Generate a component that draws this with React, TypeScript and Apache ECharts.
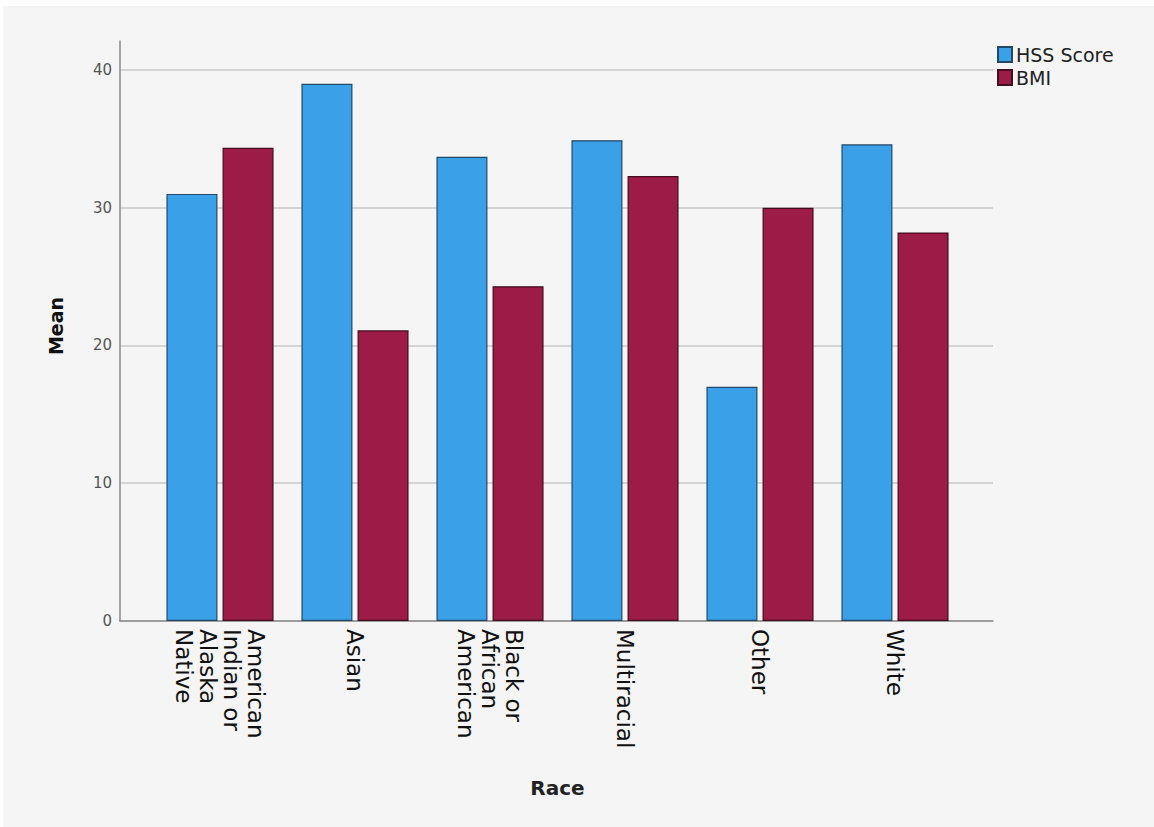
import React, { useEffect, useRef } from "react";
import * as echarts from "echarts";

const categories = [
  "American\nIndian or\nAlaska\nNative",
  "Asian",
  "Black or\nAfrican\nAmerican",
  "Multiracial",
  "Other",
  "White",
];
const hssScore = [31.0, 39.0, 33.7, 34.9, 17.0, 34.6];
const bmi = [34.35, 21.1, 24.3, 32.3, 30.0, 28.2];
const yTicks = [0, 10, 20, 30, 40];

const FONT = "'DejaVu Sans', sans-serif";

export default function App() {
  const ref = useRef<HTMLDivElement>(null);
  useEffect(() => {
    if (!ref.current) return;
    const chart = echarts.init(ref.current, null, { renderer: "svg" });
    const yMax = 42.1;
    chart.setOption({
      animation: false,
      backgroundColor: "#ffffff",
      graphic: [
        {
          type: "rect",
          z: -10,
          shape: { x: 3, y: 6, width: 1151, height: 821 },
          style: { fill: "#f5f5f5" },
          silent: true,
        },
      ],
      legend: {
        orient: "vertical",
        left: 997,
        top: 45,
        padding: 0,
        itemWidth: 14,
        itemHeight: 15,
        itemGap: 4,
        icon: "rect",
        textStyle: { fontFamily: FONT, fontSize: 19, color: "#222", padding: [0, 0, 0, -1] },
        data: ["HSS Score", "BMI"],
      },
      grid: [
        { left: 120, right: 161, top: 41, bottom: 206 },
        { left: 152.5, right: 191.5, top: 41, bottom: 206 },
      ],
      xAxis: [
        {
          gridIndex: 0,
          type: "value",
          min: 0,
          max: 1,
          axisLine: { show: true, lineStyle: { color: "#8a8a8a", width: 1.5 } },
          axisTick: { show: false },
          axisLabel: { show: false },
          splitLine: { show: false },
        },
        {
          gridIndex: 1,
          type: "category",
          data: categories,
          name: "Race",
          nameLocation: "middle",
          nameGap: 157,
          nameTextStyle: { fontFamily: FONT, fontSize: 20, fontWeight: "bold", color: "#222" },
          axisLine: { show: false },
          axisTick: { show: false },
          axisLabel: {
            rotate: -90,
            margin: 8,
            interval: 0,
            fontFamily: FONT,
            fontSize: 23,
            lineHeight: 24,
            color: "#111",
          },
        },
      ],
      yAxis: [
        {
          gridIndex: 0,
          type: "value",
          min: 0,
          max: yMax,
          interval: 10,
          name: "Mean",
          nameLocation: "middle",
          nameGap: 55,
          nameRotate: 90,
          nameTextStyle: {
            fontFamily: FONT,
            fontSize: 19,
            fontWeight: "bold",
            color: "#111",
            padding: [0, 0, 0, 10],
          },
          axisLine: { show: true, lineStyle: { color: "#8a8a8a", width: 1.5 } },
          axisTick: { show: false },
          axisLabel: {
            margin: 8,
            fontFamily: FONT,
            fontSize: 15,
            color: "#555",
            formatter: (v: number) => (yTicks.includes(v) ? String(v) : ""),
          },
          splitLine: { show: true, showMaxLine: false, lineStyle: { color: "#c9c9c9", width: 1.5 } },
        },
        {
          gridIndex: 1,
          type: "value",
          min: 0,
          max: yMax,
          interval: 10,
          show: false,
          splitLine: { show: false },
        },
      ],
      series: [
        {
          name: "HSS Score",
          type: "bar",
          xAxisIndex: 1,
          yAxisIndex: 1,
          data: hssScore,
          barWidth: 51,
          barGap: "10%",
          itemStyle: { color: "#3aa1e8", borderColor: "#234867", borderWidth: 1.2 },
        },
        {
          name: "BMI",
          type: "bar",
          xAxisIndex: 1,
          yAxisIndex: 1,
          data: bmi,
          barWidth: 51,
          barGap: "10%",
          itemStyle: { color: "#9c1b47", borderColor: "#430c1f", borderWidth: 1.2 },
        },
      ],
    });
    return () => chart.dispose();
  }, []);
  return (
    <div
      ref={ref}
      style={{ position: "fixed", left: 0, top: 0, width: 1154, height: 827 }}
    />
  );
}
